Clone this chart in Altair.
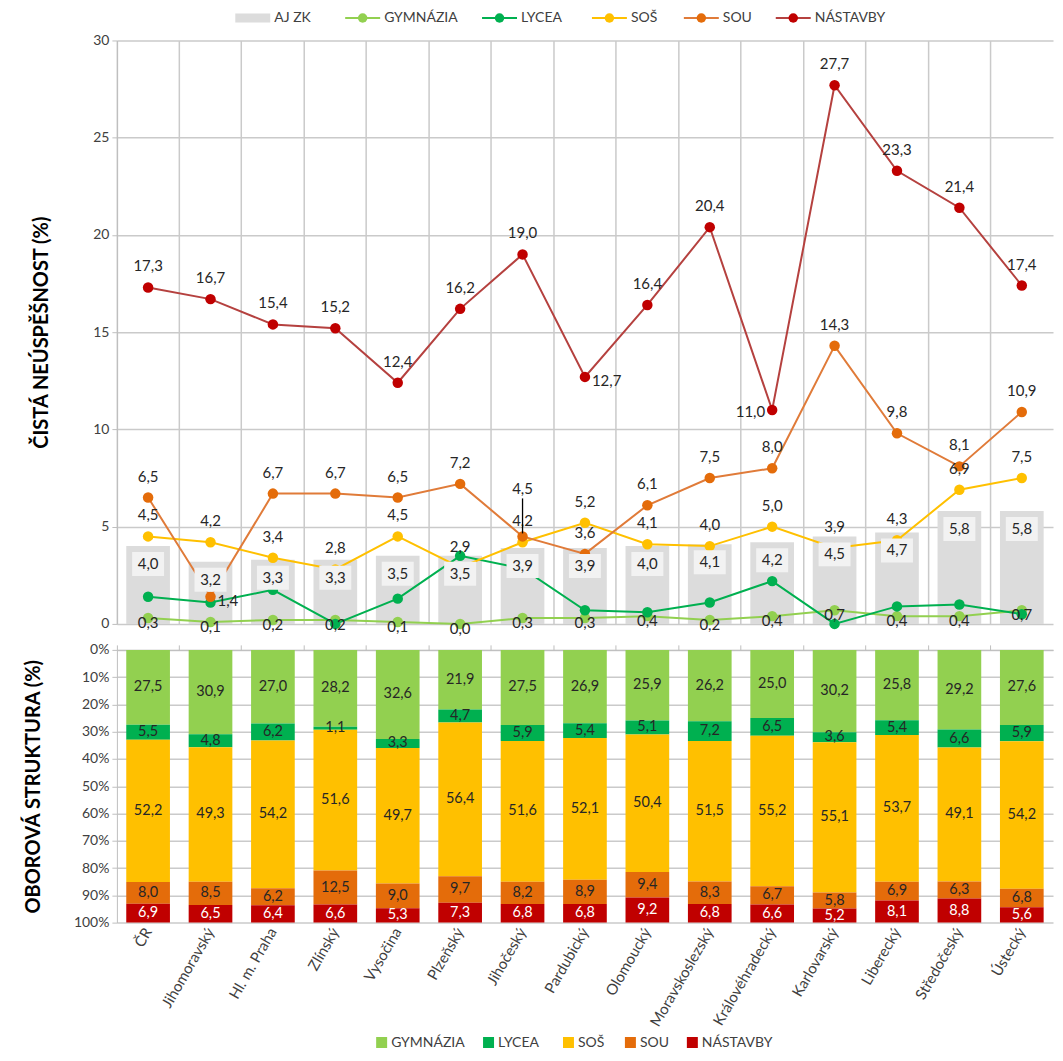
import altair as alt
import pandas as pd

# ---------------- data ----------------
regions = ["ČR", "Jihomoravský", "Hl. m. Praha", "Zlínský", "Vysočina", "Plzeňský",
           "Jihočeský", "Pardubický", "Olomoucký", "Moravskoslezský", "Královéhradecký",
           "Karlovarský", "Liberecký", "Středočeský", "Ústecký"]
series = ["GYMNÁZIA", "LYCEA", "SOŠ", "SOU", "NÁSTAVBY"]

aj_zk = [4.0, 3.2, 3.3, 3.3, 3.5, 3.5, 3.9, 3.9, 4.0, 4.1, 4.2, 4.5, 4.7, 5.8, 5.8]
fail_gymnazia = [0.3, 0.1, 0.2, 0.2, 0.1, 0.0, 0.3, 0.3, 0.4, 0.2, 0.4, 0.7, 0.4, 0.4, 0.7]
fail_lycea = [1.4, 1.1, 1.75, 0.0, 1.3, 3.5, 2.85, 0.7, 0.6, 1.1, 2.2, 0.0, 0.9, 1.0, 0.5]
fail_sos = [4.5, 4.2, 3.4, 2.8, 4.5, 2.9, 4.2, 5.2, 4.1, 4.0, 5.0, 3.9, 4.3, 6.9, 7.5]
fail_sou = [6.5, 1.4, 6.7, 6.7, 6.5, 7.2, 4.5, 3.6, 6.1, 7.5, 8.0, 14.3, 9.8, 8.1, 10.9]
fail_nastavby = [17.3, 16.7, 15.4, 15.2, 12.4, 16.2, 19.0, 12.7, 16.4, 20.4, 11.0, 27.7, 23.3, 21.4, 17.4]

share_gymnazia = [27.5, 30.9, 27.0, 28.2, 32.6, 21.9, 27.5, 26.9, 25.9, 26.2, 25.0, 30.2, 25.8, 29.2, 27.6]
share_lycea = [5.5, 4.8, 6.2, 1.1, 3.3, 4.7, 5.9, 5.4, 5.1, 7.2, 6.5, 3.6, 5.4, 6.6, 5.9]
share_sos = [52.2, 49.3, 54.2, 51.6, 49.7, 56.4, 51.6, 52.1, 50.4, 51.5, 55.2, 55.1, 53.7, 49.1, 54.2]
share_sou = [8.0, 8.5, 6.2, 12.5, 9.0, 9.7, 8.2, 8.9, 9.4, 8.3, 6.7, 5.8, 6.9, 6.3, 6.8]
share_nastavby = [6.9, 6.5, 6.4, 6.6, 5.3, 7.3, 6.8, 6.8, 9.2, 6.8, 6.6, 5.2, 8.1, 8.8, 5.6]

# ---------------- styles ----------------
FONT = "Lato"
dot_colors = ["#92D050", "#00B050", "#FFC000", "#E46C0A", "#C00000"]
line_colors = ["#92D050", "#00B050", "#FFC000", "#E07B39", "#B5413F"]
BAR_GREY = "#DCDCDC"
BOX_GREY = "#F2F2F2"
GRID = "#CACACA"
TXT = "#262626"
W = 937
H_TOP = 584
H_BOT = 273

fail_lists = [fail_gymnazia, fail_lycea, fail_sos, fail_sou, fail_nastavby]
share_lists = [share_gymnazia, share_lycea, share_sos, share_sou, share_nastavby]

# label placement tweaks (as in the original Excel chart)
label_right = {("NÁSTAVBY", "Pardubický"), ("SOU", "Jihomoravský")}
label_left = {("NÁSTAVBY", "Královéhradecký")}
label_high = {("SOU", "Jihočeský")}

rows = []
for i, reg in enumerate(regions):
    rows.append(dict(region=reg, series="AJ ZK", value=aj_zk[i], lab="box"))
    for s, vals in zip(series, fail_lists):
        if s == "GYMNÁZIA":
            lab = "center"
        elif s == "LYCEA":
            lab = "none"
        elif (s, reg) in label_right:
            lab = "right"
        elif (s, reg) in label_left:
            lab = "left"
        elif (s, reg) in label_high:
            lab = "high"
        else:
            lab = "above"
        rows.append(dict(region=reg, series=s, value=vals[i], lab=lab))
df_top = pd.DataFrame(rows)

srows = []
for i, reg in enumerate(regions):
    for k, (s, vals) in enumerate(zip(series, share_lists)):
        srows.append(dict(region=reg, series=s, share=vals[i], ord=k))
df_bot = pd.DataFrame(srows)

LBL = "replace(format(datum.value, '.1f'), '.', ',')"

# ---------------- top chart ----------------
X_TOP = alt.X("region:N", sort=regions, title=None,
              scale=alt.Scale(paddingInner=0, paddingOuter=0),
              axis=alt.Axis(labels=False, ticks=False, domain=False, grid=True,
                            bandPosition=0, gridColor=GRID, gridWidth=1.5))
Y_TOP = alt.Y("value:Q", title="ČISTÁ NEÚSPĚŠNOST (%)",
              scale=alt.Scale(domain=[0, 30], nice=False),
              axis=alt.Axis(values=list(range(0, 31, 5)), grid=True, gridColor=GRID,
                            gridWidth=1.5, tickSize=5, labelPadding=3, titlePadding=41,
                            titleFontSize=20, titleFontWeight="bold", titleColor="black",
                            titleFont=FONT))

base = alt.Chart(df_top).encode(x=X_TOP, y=Y_TOP)
is_line = "indexof(['GYMNÁZIA','LYCEA','SOŠ','SOU','NÁSTAVBY'], datum.series) >= 0"

bars = base.transform_filter("datum.series == 'AJ ZK'").mark_bar(
    color=BAR_GREY, width=alt.RelativeBandSize(0.7))

lines = base.transform_filter(is_line).mark_line(strokeWidth=2).encode(
    stroke=alt.Stroke("series:N", scale=alt.Scale(domain=series, range=line_colors), legend=None))

pts = base.transform_filter(is_line).mark_point(filled=True, size=110, opacity=1, strokeWidth=0).encode(
    fill=alt.Fill("series:N", scale=alt.Scale(domain=series, range=dot_colors), legend=None))

boxes = base.transform_filter("datum.series == 'AJ ZK'").mark_point(
    shape="M-1,-0.75L1,-0.75L1,0.75L-1,0.75Z", filled=True, color=BOX_GREY,
    size=1024, opacity=1, strokeWidth=0, yOffset=18)

box_txt = base.transform_filter("datum.series == 'AJ ZK'").transform_calculate(
    lbl=LBL).mark_text(dy=18, fontSize=15, font=FONT, color=TXT).encode(text="lbl:N")


def lab_layer(kind, **kw):
    return base.transform_filter(f"datum.lab == '{kind}'").transform_calculate(
        lbl=LBL).mark_text(fontSize=15, font=FONT, color=TXT, **kw).encode(text="lbl:N")


t_above = lab_layer("above", dy=-21)
t_center = lab_layer("center", dy=5)
t_right = lab_layer("right", align="left", dx=7, dy=4)
t_left = lab_layer("left", align="right", dx=-7, dy=2)
t_high = lab_layer("high", dy=-47)
leader = base.transform_filter("datum.lab == 'high'").mark_rule(
    color="black", strokeWidth=1.3, yOffset=-38, y2Offset=-3).encode(y2="value:Q")

top = alt.layer(bars, lines, pts, boxes, box_txt, t_above, t_center, t_right, t_left,
                leader, t_high).properties(width=W, height=H_TOP)

# ---------------- bottom chart ----------------
def y_bot(field):
    return alt.Y(field, title="OBOROVÁ STRUKTURA (%)", stack="normalize" if field == "share:Q" else None,
                 scale=alt.Scale(domain=[0, 1], reverse=True, nice=False),
                 axis=alt.Axis(values=[i / 10 for i in range(11)], format=".0%", grid=True,
                               gridColor=GRID, gridWidth=1.5, tickSize=5, labelPadding=3,
                               titlePadding=30, titleFontSize=20, titleFontWeight="bold",
                               titleColor="black", titleFont=FONT))


X_BOT = alt.X("region:N", sort=regions, title=None,
              scale=alt.Scale(paddingInner=0, paddingOuter=0),
              axis=alt.Axis(orient="bottom", labelAngle=-60, ticks=False, domain=False,
                            grid=False, labelPadding=6, labelFontSize=15))
X_BOT_TOP = alt.X("region:N", sort=regions, title=None,
                  scale=alt.Scale(paddingInner=0, paddingOuter=0),
                  axis=alt.Axis(orient="top", labels=False, ticks=True, tickSize=5,
                                domain=True, grid=False, bandPosition=0))

sbars = alt.Chart(df_bot).mark_bar(width=alt.RelativeBandSize(0.7)).encode(
    x=X_BOT, y=y_bot("share:Q"),
    color=alt.Color("series:N", scale=alt.Scale(domain=series, range=dot_colors), legend=None),
    order=alt.Order("ord:Q"))

stxt = alt.Chart(df_bot).transform_stack(
    stack="share", groupby=["region"], as_=["s0", "s1"], offset="normalize",
    sort=[alt.SortField("ord", order="ascending")]
).transform_calculate(
    mid="(datum.s0 + datum.s1) / 2",
    lbl="replace(format(datum.share, '.1f'), '.', ',')"
).mark_text(fontSize=14.5, font=FONT, baseline="middle").encode(
    x=X_BOT_TOP, y=y_bot("mid:Q"), text="lbl:N",
    color=alt.condition("datum.series == 'NÁSTAVBY'", alt.value("white"), alt.value(TXT)))

bottom = alt.layer(sbars, stxt).resolve_axis(x="independent").properties(width=W, height=H_BOT)

# ---------------- legends ----------------
def legend_frame(names, kinds, sym_w, text_gap, char_w, gap, shift):
    out, pos = [], 0.0
    for n, k in zip(names, kinds):
        x0, x1 = pos, pos + sym_w
        tx = x1 + text_gap
        out.append(dict(name=n, kind=k, x0=x0, x1=x1, xm=(x0 + x1) / 2, tx=tx))
        pos = tx + len(n) * char_w + gap
    total = pos - gap
    off = (W - total) / 2 + shift
    for r in out:
        for key in ("x0", "x1", "xm", "tx"):
            r[key] += off
    return pd.DataFrame(out)


LX = alt.Scale(domain=[0, W], nice=False, zero=False)

top_names = ["AJ ZK"] + series
top_kinds = ["rect"] + ["line"] * 5
leg1_df = legend_frame(top_names, top_kinds, 35, 4, 9.0, 26, -24)
leg1_base = alt.Chart(leg1_df)
leg1 = alt.layer(
    leg1_base.transform_filter("datum.kind == 'rect'").mark_rect(color=BAR_GREY).encode(
        x=alt.X("x0:Q", scale=LX, axis=None), x2="x1:Q", y=alt.value(5), y2=alt.value(14)),
    leg1_base.transform_filter("datum.kind == 'line'").mark_rule(strokeWidth=2).encode(
        x=alt.X("x0:Q", scale=LX, axis=None), x2="x1:Q", y=alt.value(9.5),
        stroke=alt.Stroke("name:N", scale=alt.Scale(domain=series, range=line_colors), legend=None)),
    leg1_base.transform_filter("datum.kind == 'line'").mark_point(filled=True, size=90, opacity=1, strokeWidth=0).encode(
        x=alt.X("xm:Q", scale=LX, axis=None), y=alt.value(9.5),
        fill=alt.Fill("name:N", scale=alt.Scale(domain=series, range=dot_colors), legend=None)),
    leg1_base.mark_text(align="left", baseline="middle", fontSize=14, font=FONT, color="#404040").encode(
        x=alt.X("tx:Q", scale=LX, axis=None), y=alt.value(9.5), text="name:N"),
).properties(width=W, height=19)

leg2_df = legend_frame(series, ["square"] * 5, 11, 4, 9.0, 20, -10)
leg2_base = alt.Chart(leg2_df)
leg2 = alt.layer(
    leg2_base.mark_point(shape="square", filled=True, size=121, opacity=1, strokeWidth=0).encode(
        x=alt.X("xm:Q", scale=LX, axis=None), y=alt.value(7),
        fill=alt.Fill("name:N", scale=alt.Scale(domain=series, range=dot_colors), legend=None)),
    leg2_base.mark_text(align="left", baseline="middle", fontSize=14, font=FONT, color="#404040").encode(
        x=alt.X("tx:Q", scale=LX, axis=None), y=alt.value(7), text="name:N"),
).properties(width=W, height=14)

chart = alt.vconcat(leg1, top, bottom, leg2, spacing=6).resolve_scale(
    fill="independent", stroke="independent", x="independent"
).properties(
    padding={"left": 15, "top": 0, "right": 2, "bottom": 0}
).configure_view(stroke=None).configure_axis(
    labelFont=FONT, labelFontSize=14, labelColor="#404040",
    domainColor="#BFBFBF", tickColor="#BFBFBF", titleFont=FONT
).configure_text(font=FONT)

chart.save("out.html", embed_options={"renderer": "svg", "actions": False})
